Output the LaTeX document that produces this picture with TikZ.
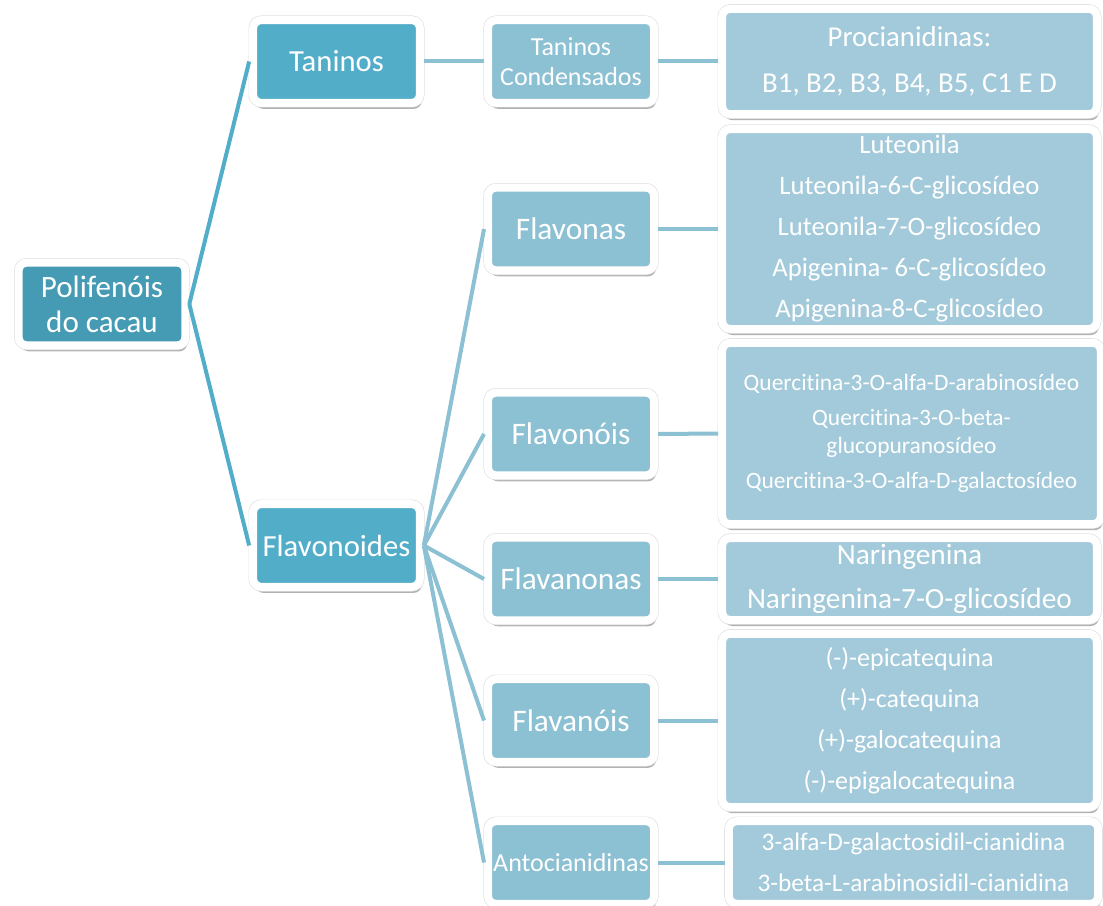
\documentclass[tikz,border=0pt]{standalone}
\usepackage{fontspec}
\setmainfont{Carlito}[Ligatures=NoCommon]
\usetikzlibrary{positioning}
\usetikzlibrary{shadows}
\definecolor{cr}{RGB}{70,155,180}
\definecolor{ca}{RGB}{82,173,200}
\definecolor{cb}{RGB}{140,192,211}
\definecolor{cc}{RGB}{163,202,218}

\begin{document}
\begin{tikzpicture}
		[x=0.75pt,y=-0.75pt,
		box/.style={rectangle, rounded corners=6pt, draw=white, line width=6pt, text=white, align=center, inner sep=0pt,
			drop shadow={shadow xshift=1.5pt, shadow yshift=-4.5pt, opacity=0.3, fill=black},
			preaction={draw=black!12, line width=7pt}},
		rootbox/.style={box, fill=cr, minimum width=125pt, minimum height=62pt, font=\fontsize{23.3pt}{26pt}\selectfont},
		catbox/.style={box, fill=ca, minimum width=125pt, minimum height=62pt, font=\fontsize{23pt}{26pt}\selectfont},
		subbox/.style={box, fill=cb, minimum width=124.5pt, minimum height=62pt, font=\fontsize{23.5pt}{26pt}\selectfont},
		leafbox/.style={box, fill=cc, minimum width=281pt},
		link/.style={line width=3pt}]
		\useasboundingbox (0,0) rectangle (1103,906);
		% nodes
		\node (root) [rootbox] at (102,304) {Polifenóis\\do cacau};
		\node (tan) [catbox] at (336.5,61.5) {Taninos};
		\node (flav) [catbox] at (336.5,545.5) {Flavonoides};
		\node (tancond) [subbox, font=\fontsize{19.5pt}{22pt}\selectfont] at (571,61.5) {Taninos\\Condensados};
		\node (flavonas) [subbox] at (571,229) {Flavonas};
		\node (flavonois) [subbox] at (571,434) {Flavonóis};
		\node (flavanonas) [subbox] at (571,579) {Flavanonas};
		\node (flavanois) [subbox] at (571,720.5) {Flavanóis};
		\node (antoc) [subbox, font=\fontsize{19.5pt}{24pt}\selectfont] at (571,862.5) {Antocianidinas};
		\node (procian) [leafbox, minimum height=79pt, font=\fontsize{21.6pt}{34pt}\selectfont] at (909.5,61.5)
			{Procianidinas:\\B1, B2, B3, B4, B5, C1 E D};
		\node (luteo) [leafbox, minimum height=150pt, font=\fontsize{20pt}{30.75pt}\selectfont] at (909.5,229)
			{Luteonila\\Luteonila-6-C-glicosídeo\\Luteonila-7-O-glicosídeo\\Apigenina- 6-C-glicosídeo\\Apigenina-8-C-glicosídeo};
		\node (querc) [leafbox, minimum width=284pt, minimum height=136pt, font=\fontsize{17.6pt}{21pt}\selectfont] at (911.5,433.5)
			{Quercitina-3-O-alfa-D-arabinosídeo\\[5pt]Quercitina-3-O-beta-\\glucopuranosídeo\\[5pt]Quercitina-3-O-alfa-D-galactosídeo};
		\node (naring) [leafbox, minimum height=61.5pt, font=\fontsize{22pt}{33pt}\selectfont] at (909.5,579)
			{Naringenina\\Naringenina-7-O-glicosídeo};
		\node (catequ) [leafbox, minimum height=130pt, font=\fontsize{19.5pt}{30.75pt}\selectfont] at (909.5,720.5)
			{(-)-epicatequina\\(+)-catequina\\(+)-galocatequina\\(-)-epigalocatequina};
		\node (cianid) [leafbox, minimum width=277pt, minimum height=62pt, font=\fontsize{19pt}{30.75pt}\selectfont] at (913.5,862.5)
			{3-alfa-D-galactosidil-cianidina\\3-beta-L-arabinosidil-cianidina};
		% connectors
		\draw [link, color=ca] (root.east) to (tan.west);
		\draw [link, color=ca] (root.east) to (flav.west);
		\draw [link, color=cb] (tan.east) to (tancond.west);
		\draw [link, color=cb] (tancond.east) to (procian.west);
		\foreach \a/\b in {flavonas/luteo, flavonois/querc, flavanonas/naring, flavanois/catequ, antoc/cianid}
		{
			\draw [link, color=cb] (flav.east) to (\a.west);
			\draw [link, color=cb] (\a.east) to (\b.west);
		}
\end{tikzpicture}
\end{document}
